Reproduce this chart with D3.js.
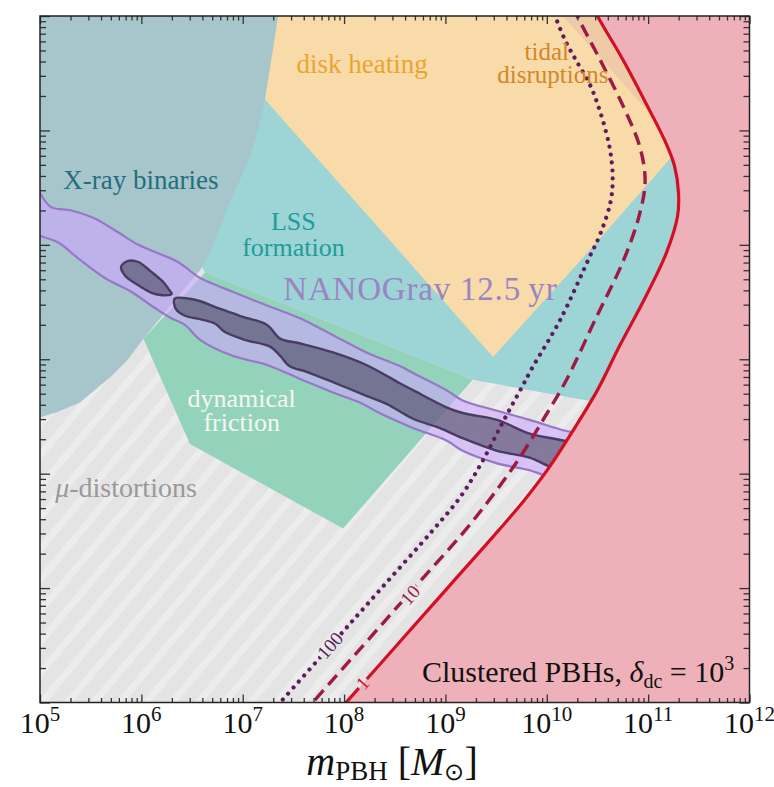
<!DOCTYPE html>
<html>
<head>
<meta charset="utf-8">
<script src="https://cdn.jsdelivr.net/npm/d3@7"></script>
<style>
  body { margin: 0; background: #fff; }
  text { font-family: "Liberation Serif", serif; }
</style>
</head>
<body>
<svg id="chart" width="774" height="787"></svg>
<script>
// every value below is log10 : [log10 m_PBH, log10 y]
var massTicks = [5, 6, 7, 8, 9, 10, 11, 12]
var yTicks = [-6, -5, -4, -3, -2, -1, 0]

var xrayBinaries = [[4.9,0.1],[7.36,0.1],[7.35,0],[7.22,-0.73],[7.15,-1.0],[7.07,-1.23],[6.97,-1.44],[6.85,-1.67],
  [6.75,-1.9],[6.65,-2.12],[6.58,-2.22],[6.02,-2.82],[5.86,-3.01],[5.69,-3.16],[5.39,-3.38],[5.17,-3.46],[5.0,-3.51],[4.9,-3.53]]
var lssFormation = [[6.48,-0.73],[11.8,-0.73],[11.8,-3.4],[10.52,-3.38],[9.27,-3.18],[6.63,-2.24],[6.48,-2.05]]
var diskHeating = [[7.36,0.1],[7.22,-0.73],[9.47,-2.98],[10.35,-2.12],[11.7,-0.76],[11.7,0.1]]
var tidalDisruptions = [[10.08,0.08],[11.8,0.08],[11.8,-1.63],[10.16,0]]
var dynamicalFriction = [[6.63,-2.24],[9.27,-3.18],[7.99,-4.48],[6.48,-3.74],[6.02,-2.82]]

var nanogravUpper = [[4.9,-1.4],[5.0,-1.55],[5.11,-1.67],[5.31,-1.7],[5.54,-1.77],[5.77,-1.89],[5.97,-2.0],[6.13,-2.06],
  [6.36,-2.15],[6.58,-2.29],[6.76,-2.36],[6.9,-2.41],[7.24,-2.53],[7.56,-2.64],[7.89,-2.79],[8.22,-2.94],[8.55,-3.06],
  [8.68,-3.12],[9.01,-3.27],[9.17,-3.36],[9.51,-3.45],[9.83,-3.53],[10.16,-3.62],[10.52,-3.71]]
var nanogravLower = [[4.9,-1.87],[5.0,-1.92],[5.18,-1.98],[5.38,-2.12],[5.64,-2.29],[5.9,-2.41],[6.13,-2.55],[6.29,-2.64],
  [6.43,-2.7],[6.58,-2.83],[6.9,-2.97],[7.24,-3.05],[7.56,-3.17],[7.89,-3.29],[8.16,-3.38],[8.35,-3.47],[8.68,-3.6],
  [9.01,-3.71],[9.17,-3.8],[9.51,-3.91],[9.83,-3.97],[10.0,-4.02],[10.32,-4.08]]
var nanogravCore1 = [[5.8,-2.19],[5.87,-2.14],[5.97,-2.15],[6.09,-2.23],[6.21,-2.32],[6.28,-2.4],[6.3,-2.43],
  [6.21,-2.44],[6.1,-2.42],[6.0,-2.37],[5.84,-2.27]]
var nanogravCore2Upper = [[6.33,-2.47],[6.53,-2.48],[6.75,-2.55],[6.97,-2.62],[7.24,-2.7],[7.37,-2.82],[7.56,-2.86],
  [7.89,-2.94],[8.22,-3.05],[8.55,-3.21],[8.68,-3.27],[9.01,-3.42],[9.17,-3.47],[9.51,-3.53],[9.83,-3.65],[10.16,-3.71],[10.52,-3.8]]
var nanogravCore2Lower = [[6.34,-2.56],[6.43,-2.62],[6.58,-2.65],[6.73,-2.69],[6.82,-2.76],[7.02,-2.83],[7.27,-2.89],
  [7.37,-2.97],[7.46,-3.06],[7.63,-3.11],[7.89,-3.2],[8.22,-3.32],[8.42,-3.39],[8.68,-3.52],[8.94,-3.6],[9.17,-3.69],
  [9.51,-3.8],[9.83,-3.86],[10.06,-3.95],[10.42,-4.04]]

// clustered PBH bounds for delta_dc = 1e3, labelled 1, 10, 100
var bound1 = [[10.46,0.08],[10.5,0],[10.75,-0.38],[11.0,-0.8],[11.17,-1.1],[11.26,-1.31],[11.3,-1.55],[11.29,-1.75],
  [11.18,-2.07],[10.96,-2.48],[10.72,-2.88],[10.5,-3.27],[10.24,-3.65],[10.02,-3.95],[9.78,-4.23],[9.52,-4.5],[9.02,-5.0],
  [8.52,-5.5],[8.01,-6.01],[7.92,-6.1]]
var bound10 = [[10.26,0.08],[10.3,0],[10.53,-0.39],[10.76,-0.8],[10.92,-1.15],[10.97,-1.45],[10.91,-1.75],[10.75,-2.15],
  [10.49,-2.63],[10.2,-3.17],[9.97,-3.52],[9.74,-3.85],[9.5,-4.15],[9.19,-4.5],[8.69,-5.0],[8.19,-5.5],[7.6,-6.09]]
var bound100 = [[10.04,0.08],[10.08,0],[10.18,-0.21],[10.29,-0.39],[10.42,-0.59],[10.52,-0.82],[10.62,-1.15],[10.65,-1.41],
  [10.63,-1.62],[10.53,-1.9],[10.42,-2.11],[10.13,-2.66],[9.86,-3.07],[9.72,-3.3],[9.56,-3.56],[9.36,-3.9],[9.15,-4.2],
  [8.87,-4.5],[8.37,-5.0],[7.87,-5.5],[7.27,-6.1]]

var W = 774, H = 787
var L = 40, R = 749.5, T = 16, B = 702.5

var svg = d3.select('#chart')
var x = d3.scaleLog().domain([1e5, 1e12]).range([L, R])
var y = d3.scaleLog().domain([1e-6, 1]).range([B, T])
var px = d => x(Math.pow(10, d[0]))
var py = d => y(Math.pow(10, d[1]))

var straight = d3.line().x(px).y(py).curve(d3.curveLinearClosed)
var smooth = d3.line().x(px).y(py).curve(d3.curveCatmullRom.alpha(0.5))
var smoothClosed = d3.line().x(px).y(py).curve(d3.curveCatmullRomClosed.alpha(0.5))

var defs = svg.append('defs')
defs.append('clipPath').attr('id', 'plotclip')
  .append('rect').attr('x', L).attr('y', T).attr('width', R - L).attr('height', B - T)

// hatching for the mu-distortion background
var hatch = defs.append('pattern').attr('id', 'hatch').attr('patternUnits', 'userSpaceOnUse')
  .attr('width', 20).attr('height', 20).attr('patternTransform', 'rotate(40)')
hatch.append('rect').attr('width', 20).attr('height', 20).attr('fill', '#e4e4e4')
hatch.append('rect').attr('width', 7).attr('height', 20).attr('fill', '#ececec')

var plot = svg.append('g').attr('clip-path', 'url(#plotclip)')

plot.append('rect').attr('x', L).attr('y', T).attr('width', R - L).attr('height', B - T).attr('fill', 'url(#hatch)')
plot.append('path').attr('d', straight(lssFormation)).attr('fill', '#9dd4d5')
plot.append('path').attr('d', straight(diskHeating)).attr('fill', '#f8dba8')
plot.append('path').attr('d', straight(tidalDisruptions)).attr('fill', '#efcaa6')
plot.append('path').attr('d', straight(xrayBinaries)).attr('fill', '#a7c6cc')
plot.append('path').attr('d', straight(dynamicalFriction)).attr('fill', '#93d3bb')

// NANOGrav band
var outer = nanogravUpper.concat(nanogravLower.slice().reverse())
plot.append('path').attr('d', smoothClosed(outer))
  .attr('fill', 'rgb(205,165,255)').attr('fill-opacity', 0.58)
  .attr('stroke', '#9678c6').attr('stroke-width', 2.2)
var core2 = nanogravCore2Upper.concat(nanogravCore2Lower.slice().reverse())
;[nanogravCore1, core2].forEach(function (c) {
  plot.append('path').attr('d', smoothClosed(c))
    .attr('fill', 'rgb(60,62,82)').attr('fill-opacity', 0.55)
    .attr('stroke', '#4a3b63').attr('stroke-width', 2.4)
})

// excluded region right of the delta=1 bound
var corner = [[12.1, -6.1], [12.1, 0.08]]
plot.append('path')
  .attr('d', smooth(bound1) + corner.map(d => 'L' + px(d) + ',' + py(d)).join('') + 'Z')
  .attr('fill', '#efb1b9')

// inline labels on the bounds
var ang = Math.atan2(y(1e-5) - y(1e-6), x(1e9) - x(1e8)) * 180 / Math.PI
var lineLabels = [
  { name: '100', at: [7.86, -5.5], data: bound100, color: '#5e1b5e', w: 30, dash: '0.01 8', width: 4.2, cap: 'round' },
  { name: '10', at: [8.65, -5.06], data: bound10, color: '#9d1a45', w: 22, dash: '13 7', width: 3.4, cap: 'butt' },
  { name: '1', at: [8.18, -5.83], data: bound1, color: '#d30f26', w: 12, dash: null, width: 3.2, cap: 'butt' }
]
lineLabels.forEach(function (l, i) {
  var cx = px(l.at), cy = py(l.at)
  var m = defs.append('mask').attr('id', 'gap' + i).attr('maskUnits', 'userSpaceOnUse')
    .attr('x', 0).attr('y', 0).attr('width', W).attr('height', H)
  m.append('rect').attr('width', W).attr('height', H).attr('fill', 'white')
  m.append('rect').attr('x', -l.w / 2).attr('y', -10).attr('width', l.w).attr('height', 20).attr('fill', 'black')
    .attr('transform', 'translate(' + cx + ',' + cy + ') rotate(' + ang + ')')
  var p = plot.append('path').attr('d', smooth(l.data)).attr('fill', 'none')
    .attr('stroke', l.color).attr('stroke-width', l.width).attr('stroke-linecap', l.cap)
    .attr('mask', 'url(#gap' + i + ')')
  if (l.dash) p.attr('stroke-dasharray', l.dash)
  plot.append('text').attr('transform', 'translate(' + cx + ',' + cy + ') rotate(' + ang + ')')
    .attr('text-anchor', 'middle').attr('dy', '0.35em').attr('font-size', 19).attr('fill', l.color).text(l.name)
})

// region labels
function label(txt, at, color, size, anchor) {
  return plot.append('text').attr('x', px(at)).attr('y', py(at)).attr('fill', color)
    .attr('font-size', size).attr('text-anchor', anchor || 'middle').text(txt)
}
label('X-ray binaries', [5.23, -1.51], '#236f7e', 27, 'start')
label('disk heating', [7.53, -0.5], '#eaa531', 27, 'start')
label('tidal', [10.0, -0.385], '#d3872b', 25)
label('disruptions', [10.06, -0.586], '#d3872b', 25)
label('LSS', [7.5, -1.87], '#1e9c9c', 26)
label('formation', [7.5, -2.1], '#1e9c9c', 26)
label('NANOGrav 12.5\u2009yr', [7.4, -2.484], '#9a85c4', 33, 'start').attr('letter-spacing', 0.8)
label('dynamical', [6.99, -3.42], '#f7f7f2', 26)
label('friction', [6.99, -3.63], '#f7f7f2', 26)
var mu = label('', [5.15, -4.207], '#999999', 28, 'start')
mu.append('tspan').attr('font-style', 'italic').text('\u03bc')
mu.append('tspan').text('-distortions')
var cl = label('', [11.85, -5.817], '#111', 30, 'end')
cl.append('tspan').text('Clustered PBHs, ')
cl.append('tspan').attr('font-style', 'italic').text('\u03b4')
cl.append('tspan').attr('font-size', 20).attr('dy', 6).text('dc')
cl.append('tspan').attr('dy', -6).text(' = 10')
cl.append('tspan').attr('font-size', 20).attr('dy', -12).text('3')

// axes, ticks inward on all four sides
function minorOf(decades) {
  var out = []
  decades.slice(0, -1).forEach(k => { for (var m = 2; m < 10; m++) out.push(m * Math.pow(10, k)) })
  return out
}
var xMaj = massTicks.map(k => Math.pow(10, k)), xMin = minorOf(massTicks)
var yMaj = yTicks.map(k => Math.pow(10, k)), yMin = minorOf(yTicks)

function addAxis(gen, vals, size, tr) {
  var g = svg.append('g').attr('transform', tr)
    .call(gen.tickValues(vals).tickSize(-size).tickFormat(''))
  g.select('.domain').remove()
  g.selectAll('line').attr('stroke', '#333').attr('stroke-width', 1.3)
  return g
}
addAxis(d3.axisBottom(x), xMaj, 8, 'translate(0,' + B + ')')
addAxis(d3.axisBottom(x), xMin, 4.5, 'translate(0,' + B + ')')
addAxis(d3.axisTop(x), xMaj, 8, 'translate(0,' + T + ')')
addAxis(d3.axisTop(x), xMin, 4.5, 'translate(0,' + T + ')')
addAxis(d3.axisLeft(y), yMaj, 10, 'translate(' + L + ',0)')
addAxis(d3.axisLeft(y), yMin, 6, 'translate(' + L + ',0)')
addAxis(d3.axisRight(y), yMaj, 10, 'translate(' + R + ',0)')
addAxis(d3.axisRight(y), yMin, 6, 'translate(' + R + ',0)')

svg.append('rect').attr('x', L).attr('y', T).attr('width', R - L).attr('height', B - T)
  .attr('fill', 'none').attr('stroke', '#222').attr('stroke-width', 1.5)

// tick labels 10^k
massTicks.forEach(function (k) {
  var t = svg.append('text').attr('x', x(Math.pow(10, k))).attr('y', 733)
    .attr('text-anchor', 'middle').attr('font-size', 30).attr('fill', '#111')
  t.append('tspan').text('10')
  t.append('tspan').attr('font-size', 21).attr('dy', -12).text(k)
})

var xt = svg.append('text').attr('x', 392).attr('y', 775).attr('text-anchor', 'middle')
  .attr('font-size', 40).attr('fill', '#111')
xt.append('tspan').attr('font-style', 'italic').text('m')
xt.append('tspan').attr('font-size', 27).attr('dy', 5).text('PBH')
xt.append('tspan').attr('dy', -5).text(' [')
xt.append('tspan').attr('font-style', 'italic').text('M')
xt.append('tspan').attr('font-size', 24).attr('dy', 5).text('\u2299')
xt.append('tspan').attr('dy', -5).text(']')
</script>
</body>
</html>
